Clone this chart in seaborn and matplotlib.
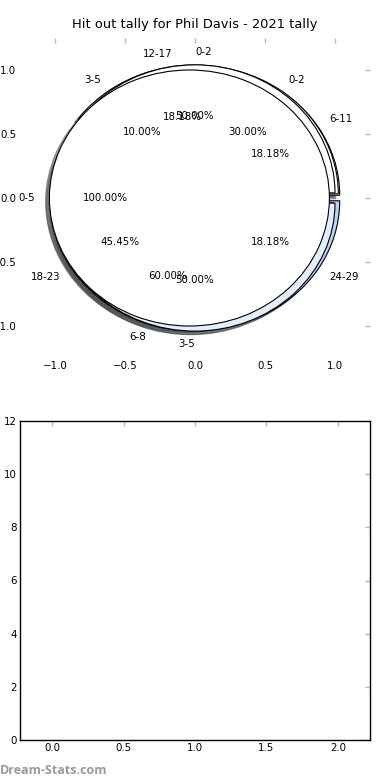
import matplotlib
matplotlib.use("Agg")
import matplotlib.pyplot as plt
import seaborn as sns

# Hit outs per span of the game (four overlaid pies)
whole_labels = ["0-5"]
whole_counts = [1]
half_labels = ["0-2", "3-5"]
half_counts = [1, 1]
third_labels = ["0-2", "3-5", "6-8"]
third_counts = [3, 1, 6]
quarter_labels = ["6-11", "12-17", "18-23", "24-29"]
quarter_counts = [2, 2, 5, 2]

title = "Hit out tally for Phil Davis - 2021 tally"
bottom_yticks = [0, 2, 4, 6, 8, 10, 12]
bottom_xticks = [0.0, 0.5, 1.0, 1.5, 2.0]
pie_ticks = [-1.0, -0.5, 0.0, 0.5, 1.0]

sns.set_style("white")
plt.rcParams['font.family'] = ['DejaVu Sans']
plt.rcParams['text.color'] = 'black'
plt.rcParams['axes.labelcolor'] = 'black'
plt.rcParams['axes.titlecolor'] = 'black'

fig = plt.figure(figsize=(3.9, 7.8), dpi=100)
ax_pie = fig.add_axes([20 / 390, 422 / 780, 350 / 390, 320 / 780])
ax_bar = fig.add_axes([20 / 390, 40 / 780, 350 / 390, 319 / 780])

wedge_style = {'edgecolor': 'black', 'linewidth': 0.8}
text_style = {'fontsize': 7.4, 'color': 'black'}
pies = [
    (quarter_counts, quarter_labels, ['white', 'white', 'white', '#b9d3f3']),
    (third_counts, third_labels, ['white', 'white', 'white']),
    (half_counts, half_labels, ['white', '#e4eefb']),
    (whole_counts, whole_labels, ['white']),
]
for counts, labels, cols in pies:
    wedges, texts, autotexts = ax_pie.pie(
        counts, labels=labels, colors=cols, autopct='%1.2f%%',
        explode=[0.04] * len(counts), shadow=True, startangle=0,
        wedgeprops=wedge_style, textprops=text_style, frame=True)
    if len(counts) == 2:
        # labels sitting exactly on the vertical: top one to the right, bottom one to the left
        texts[0].set_ha('left')
        texts[1].set_ha('right')

ax_pie.set_aspect('auto')
ax_pie.set_xlim(-1.25, 1.25)
ax_pie.set_ylim(-1.25, 1.25)
ax_pie.set_xticks(pie_ticks)
ax_pie.set_yticks(pie_ticks)
sns.despine(ax=ax_pie, left=True, bottom=True)
ax_pie.set_title(title, fontsize=9.4, pad=7, color='black')

ax_bar.set_xlim(-0.225, 2.225)
ax_bar.set_ylim(0, 12)
ax_bar.set_xticks(bottom_xticks)
ax_bar.set_yticks(bottom_yticks)
for sp in ax_bar.spines.values():
    sp.set_color('black')
    sp.set_linewidth(1.0)

for ax in (ax_pie, ax_bar):
    ax.tick_params(direction='in', length=3.5, width=1, color='#b8b8b8',
                   top=True, right=True, labelsize=7.4, pad=2.5,
                   labelcolor='black')

fig.text(0.0, 10 / 780, "Dream-Stats.com", ha='left', va='center',
         color='#9a9a9a', fontsize=9, family=['Open Sans', 'DejaVu Sans'],
         weight='bold')

fig.savefig('out.png', dpi=100)
